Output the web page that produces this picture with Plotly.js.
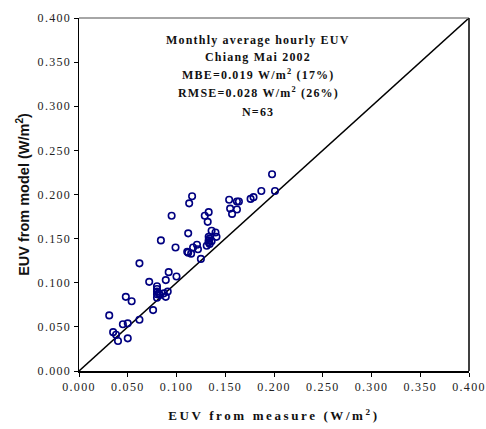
<!DOCTYPE html>
<html>
<head>
<meta charset="utf-8">
<script src="https://cdn.plot.ly/plotly-3.0.1.min.js"></script>
<style>html,body{margin:0;padding:0;background:#fff;}#chart{width:486px;height:429px;}</style>
</head>
<body>
<div id="chart"></div>
<script>
// Measured EUV (W/m2)
const measured = [
  0.031, 0.035, 0.038, 0.040, 0.045, 0.050, 0.050, 0.048, 0.054, 0.062,
  0.062, 0.072, 0.076, 0.080, 0.080, 0.080, 0.082, 0.087, 0.091, 0.080,
  0.089, 0.084, 0.092, 0.089, 0.100, 0.099, 0.112, 0.111, 0.115, 0.117,
  0.121, 0.122, 0.125, 0.095, 0.113, 0.116, 0.129, 0.133, 0.132, 0.136,
  0.140, 0.141, 0.133, 0.133, 0.133, 0.134, 0.131, 0.154, 0.162, 0.164,
  0.155, 0.162, 0.157, 0.176, 0.179, 0.187, 0.198, 0.201, 0.083, 0.112,
  0.136, 0.134, 0.080
];
// Modelled EUV (W/m2)
const modelled = [
  0.063, 0.044, 0.041, 0.034, 0.053, 0.054, 0.037, 0.084, 0.079, 0.058,
  0.122, 0.101, 0.069, 0.096, 0.093, 0.090, 0.088, 0.088, 0.090, 0.083,
  0.084, 0.148, 0.112, 0.103, 0.107, 0.140, 0.156, 0.135, 0.133, 0.140,
  0.143, 0.138, 0.127, 0.176, 0.190, 0.198, 0.176, 0.180, 0.169, 0.159,
  0.157, 0.152, 0.152, 0.148, 0.146, 0.144, 0.142, 0.194, 0.192, 0.192,
  0.184, 0.183, 0.178, 0.195, 0.197, 0.204, 0.223, 0.204, 0.086, 0.134,
  0.147, 0.150, 0.087
];
// 1:1 reference line
const lineX = [0, 0.4];
const lineY = [0, 0.4];
const tickVals = [0, 0.05, 0.1, 0.15, 0.2, 0.25, 0.3, 0.35, 0.4];
const tickText = ['0.000','0.050','0.100','0.150','0.200','0.250','0.300','0.350','0.400'];
const statLines = [
  'Monthly average hourly EUV',
  'Chiang Mai 2002',
  'MBE=0.019 W/m<sup>2</sup> (17%)',
  'RMSE=0.028 W/m<sup>2</sup> (26%)',
  'N=63'
];
const xTitle = 'EUV from measure (W/m<sup>2</sup>)';
const yTitle = 'EUV from model (W/m<sup>2</sup>)';

const statY = [0.938, 0.890, 0.839, 0.788, 0.734];
const sp = (s, ls) => '<span style="letter-spacing:' + ls + 'px"><b>' + s + '</b></span>';
const spTick = s => '<span style="letter-spacing:1.3px">' + s + '</span>';
const serif = 'Liberation Serif, Times New Roman, serif';

const traces = [
  {x: lineX, y: lineY, mode: 'lines', line: {color: '#000', width: 1.5}, hoverinfo: 'skip', showlegend: false},
  {x: measured, y: modelled, mode: 'markers', showlegend: false,
   marker: {symbol: 'circle-open', size: 6.5, color: '#000080', line: {width: 1.6, color: '#000080'}}}
];

const axisCommon = {
  range: [0, 0.4], tickvals: tickVals, ticktext: tickText.map(spTick),
  ticks: 'outside', ticklen: 4, tickwidth: 1, tickcolor: '#000',
  showline: true, linecolor: '#000', linewidth: 1.5, mirror: false,
  showgrid: false, zeroline: false, automargin: false,
  ticklabeloverflow: 'allow',
  tickfont: {family: serif, size: 12, color: '#222'}
};

const layout = {
  width: 486, height: 429,
  margin: {l: 79, r: 17, t: 18, b: 58},
  paper_bgcolor: '#fff', plot_bgcolor: '#fff',
  xaxis: Object.assign({}, axisCommon, {
    title: {text: sp(xTitle, 2.6), standoff: 18, font: {family: serif, size: 13, color: '#111'}}
  }),
  yaxis: Object.assign({}, axisCommon, {
    title: {text: '<b>' + yTitle + '</b>', standoff: 4, font: {family: 'Liberation Sans, Arial, sans-serif', size: 14.5, color: '#111'}}
  }),
  shapes: [
    {type: 'line', xref: 'paper', yref: 'paper', x0: 0, x1: 1, y0: 1, y1: 1, line: {color: '#888', width: 1.5}},
    {type: 'line', xref: 'paper', yref: 'paper', x0: 1, x1: 1, y0: 0, y1: 1, line: {color: '#000', width: 1.5}}
  ],
  annotations: statLines.map((t, i) => ({
    xref: 'paper', yref: 'paper', x: 0.459, y: statY[i], xanchor: 'center', yanchor: 'middle',
    showarrow: false, text: sp(t, 1.2),
    font: {family: serif, size: 12, color: '#111'}
  }))
};

Plotly.newPlot('chart', traces, layout, {displayModeBar: false, staticPlot: true});
</script>
</body>
</html>
